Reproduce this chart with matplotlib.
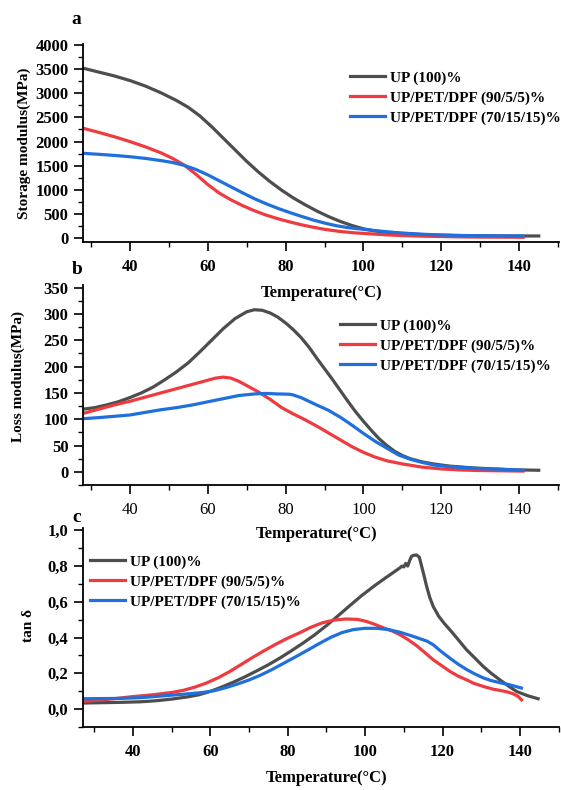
import matplotlib
matplotlib.use("Agg")
import matplotlib.pyplot as plt
from matplotlib.ticker import MultipleLocator

plt.rcParams['font.family'] = ['Liberation Serif', 'DejaVu Serif']
plt.rcParams['font.size'] = 11

labels = ["UP (100)%", "UP/PET/DPF (90/5/5)%", "UP/PET/DPF (70/15/15)%"]
colors = ["#4d4d4d", "#ee3b3f", "#1f6fdc"]

# --- a: storage modulus (MPa) ---
t_sm_up = [28, 30, 33, 36, 40, 44, 48, 52, 55, 58, 61, 64, 67, 70, 73, 76, 79, 82, 85, 88, 91, 94, 97, 100,
           103, 106, 110, 115, 120, 125, 130, 135, 140, 145]
sm_up = [3520, 3480, 3420, 3360, 3265, 3150, 3010, 2850, 2710, 2530, 2310, 2070, 1830, 1590, 1370, 1170, 990,
         830, 690, 560, 445, 345, 260, 190, 145, 115, 90, 70, 58, 50, 46, 44, 42, 42]
t_sm_90 = [28, 32, 36, 40, 44, 48, 51, 54, 57, 60, 63, 66, 69, 72, 75, 78, 81, 84, 87, 90, 94, 98, 102, 106,
           110, 115, 120, 125, 130, 135, 141]
sm_90 = [2275, 2190, 2100, 2000, 1890, 1765, 1650, 1510, 1320, 1110, 930, 790, 670, 565, 475, 400, 335, 275,
         225, 180, 135, 105, 85, 65, 50, 38, 30, 23, 19, 17, 15]
t_sm_70 = [28, 32, 36, 40, 44, 48, 51, 54, 57, 60, 63, 66, 69, 72, 75, 78, 81, 84, 87, 90, 93, 96, 100, 104,
           108, 112, 116, 120, 125, 130, 135, 141]
sm_70 = [1755, 1735, 1712, 1685, 1650, 1605, 1565, 1505, 1420, 1310, 1185, 1060, 935, 815, 710, 615, 530, 450,
         375, 310, 255, 215, 180, 145, 115, 92, 75, 62, 52, 46, 42, 40]

# --- b: loss modulus (MPa) ---
t_lm_up = [28, 31, 34, 37, 40, 43, 46, 49, 52, 55, 58, 61, 64, 67, 70, 72, 74, 76, 78, 80, 82, 84, 86, 88, 90,
           92, 94, 96, 98, 100, 102, 104, 106, 108, 110, 112, 115, 118, 122, 127, 132, 138, 145]
lm_up = [119, 122, 127, 133, 141, 150, 161, 175, 190, 207, 228, 250, 272, 291, 304, 308, 307, 302, 294, 283,
         270, 255, 237, 216, 196, 176, 155, 134, 114, 96, 79, 63, 50, 39, 31, 25, 19, 15, 11, 8, 6, 4, 3]
t_lm_90 = [28, 32, 36, 40, 44, 48, 52, 56, 59, 62, 64, 66, 68, 70, 73, 76, 79, 82, 85, 88, 91, 94, 97, 100,
           103, 106, 110, 115, 120, 125, 130, 135, 141]
lm_90 = [111, 119, 127, 134, 142, 150, 158, 166, 172, 178, 180, 178, 172, 164, 152, 138, 122, 110, 99, 87, 74,
         61, 48, 37, 28, 21, 15, 9, 5.5, 3.5, 2.5, 2, 1.5]
t_lm_70 = [28, 32, 36, 40, 44, 48, 52, 56, 60, 64, 68, 72, 75, 78, 81, 82, 84, 86, 88, 91, 94, 97, 100, 103,
           106, 109, 112, 115, 118, 122, 126, 130, 135, 141]
lm_70 = [101, 103, 105.5, 108, 113, 118, 122, 127, 133, 139, 145, 148, 149, 148, 147.5, 146, 141, 134, 127, 117,
         104, 89, 73, 58, 45, 32, 24, 18, 13, 10, 8, 6, 5, 3]

# --- c: tan delta ---
t_td_up = [27, 32, 37, 42, 46, 50, 54, 57, 60, 63, 66, 69, 72, 75, 78, 81, 84, 87, 90, 93, 96, 99, 102, 105,
           108, 109, 109.5, 110, 110.5, 111, 111.5, 112, 112.5, 113.3, 114, 114.6, 115.3, 115.9, 116.7, 117.6,
           119, 120.5, 121.9, 124, 126.2, 128.4, 130.5, 132.6, 134.8, 137, 139.1, 142, 144.7]
td_up = [0.034, 0.036, 0.038, 0.041, 0.047, 0.056, 0.068, 0.08, 0.099, 0.124, 0.151, 0.181, 0.214, 0.248, 0.286,
         0.327, 0.37, 0.416, 0.467, 0.522, 0.578, 0.633, 0.683, 0.73, 0.775, 0.79, 0.80, 0.795, 0.815, 0.80,
         0.83, 0.855, 0.86, 0.862, 0.85, 0.80, 0.74, 0.686, 0.625, 0.574, 0.52, 0.478, 0.444, 0.39, 0.332,
         0.285, 0.239, 0.2, 0.164, 0.13, 0.099, 0.075, 0.058]
t_td_90 = [27, 31, 35, 40, 45, 50, 53, 56, 59, 62, 65, 68, 71, 74, 77, 80, 83.2, 86, 89, 92, 95, 98, 100.4,
           103, 105, 107, 109, 111, 113.3, 115.5, 117.6, 120, 122, 124, 126.2, 128, 130.5, 133, 135, 137,
           138.3, 139.5, 140.4]
td_90 = [0.043, 0.05, 0.058, 0.07, 0.08, 0.093, 0.105, 0.123, 0.146, 0.175, 0.21, 0.25, 0.29, 0.328, 0.364,
         0.397, 0.428, 0.458, 0.483, 0.498, 0.504, 0.502, 0.49, 0.47, 0.452, 0.437, 0.416, 0.39, 0.355, 0.315,
         0.276, 0.24, 0.21, 0.185, 0.164, 0.145, 0.127, 0.112, 0.104, 0.095, 0.085, 0.072, 0.052]
t_td_70 = [27, 32, 37, 42, 46, 50, 54, 58, 61, 64, 67, 70, 73, 76, 79, 82, 85, 88, 91, 94, 97, 100, 103, 106,
           109, 112, 114, 116, 117.6, 119.5, 121.9, 124, 126.2, 128.5, 130.5, 132.5, 134.8, 137, 140.4]
td_70 = [0.058, 0.059, 0.06, 0.064, 0.071, 0.078, 0.085, 0.093, 0.103, 0.12, 0.14, 0.163, 0.19, 0.222, 0.257,
         0.292, 0.328, 0.365, 0.4, 0.428, 0.445, 0.452, 0.452, 0.445, 0.43, 0.41, 0.395, 0.38, 0.36, 0.325,
         0.285, 0.252, 0.222, 0.195, 0.175, 0.16, 0.148, 0.138, 0.118]

xticks = [40, 60, 80, 100, 120, 140]
xticklabels = ["40", "60", "80", "100", "120", "140"]
sm_ticks = [0, 500, 1000, 1500, 2000, 2500, 3000, 3500, 4000]
lm_ticks = [0, 50, 100, 150, 200, 250, 300, 350]
td_ticks = [0.0, 0.2, 0.4, 0.6, 0.8, 1.0]
td_ticklabels = ["0,0", "0,2", "0,4", "0,6", "0,8", "1,0"]

W, H = 561, 790


def box(left, top, right, bottom):
    return [left / W, 1 - bottom / H, (right - left) / W, (bottom - top) / H]


def ftext(x, y, s, **kw):
    fig.text(x / W, 1 - y / H, s, ha='center', va='center', fontweight='bold', **kw)


def style(ax, xlim, ylim, yticks, yticklabels, yminor, xbold=True):
    for side in ['top', 'right']:
        ax.spines[side].set_visible(False)
    for side in ['left', 'bottom']:
        ax.spines[side].set_linewidth(1.3)
    ax.set_xlim(*xlim)
    ax.set_ylim(*ylim)
    ax.set_xticks(xticks, xticklabels, fontweight='bold' if xbold else 'normal', fontsize=12)
    ax.set_yticks(yticks, yticklabels, fontweight='bold', fontsize=12)
    ax.xaxis.set_minor_locator(MultipleLocator(10))
    ax.yaxis.set_minor_locator(MultipleLocator(yminor))
    ax.tick_params(which='major', length=6.5, width=1.2, pad=4)
    ax.tick_params(which='minor', length=3.5, width=1.0)
    ax.tick_params(axis='x', which='major', pad=6)


def add_legend(ax, x, y):
    ax.legend(loc='upper left', bbox_to_anchor=(x / W, 1 - y / H), bbox_transform=fig.transFigure,
              frameon=False, prop={'weight': 'bold', 'size': 11}, handlelength=2.3, handletextpad=0.3,
              labelspacing=0.4, borderpad=0, borderaxespad=0)


fig = plt.figure(figsize=(W / 100, H / 100), dpi=100)

# a
ax1 = fig.add_axes(box(83, 44, 559, 242))
ax1.plot(t_sm_up, sm_up, color=colors[0], lw=2.3, label=labels[0])
ax1.plot(t_sm_90, sm_90, color=colors[1], lw=2.3, label=labels[1])
ax1.plot(t_sm_70, sm_70, color=colors[2], lw=2.3, label=labels[2])
style(ax1, (28, 150.2), (-83, 4021), sm_ticks, [str(v) for v in sm_ticks], 250)
add_legend(ax1, 350, 71)

# b
ax2 = fig.add_axes(box(83, 285, 559, 485))
ax2.plot(t_lm_up, lm_up, color=colors[0], lw=2.3, label=labels[0])
ax2.plot(t_lm_90, lm_90, color=colors[1], lw=2.3, label=labels[1])
ax2.plot(t_lm_70, lm_70, color=colors[2], lw=2.3, label=labels[2])
style(ax2, (28, 150.2), (-25, 355), lm_ticks, [str(v) for v in lm_ticks], 25, xbold=False)
add_legend(ax2, 340, 319)

# c
ax3 = fig.add_axes(box(83, 528, 559, 727))
ax3.plot(t_td_up, td_up, color=colors[0], lw=2.3, label=labels[0])
ax3.plot(t_td_90, td_90, color=colors[1], lw=2.3, label=labels[1])
ax3.plot(t_td_70, td_70, color=colors[2], lw=2.3, label=labels[2])
style(ax3, (27.1, 150.1), (-0.1, 1.013), td_ticks, td_ticklabels, 0.1)
add_legend(ax3, 90, 555)

# panel letters, axis titles
ftext(76, 20, "a", fontsize=14)
ftext(77, 270, "b", fontsize=14)
ftext(77, 517, "c", fontsize=14)
ftext(322, 293, "Temperature(°C)", fontsize=12)
ftext(317, 534, "Temperature(°C)", fontsize=12)
ftext(327, 778, "Temperature(°C)", fontsize=12)
ftext(24, 143, "Storage modulus(MPa)", fontsize=11, rotation=90)
ftext(18, 377, "Loss modulus(MPa)", fontsize=11, rotation=90)
ftext(29, 625, "tan δ", fontsize=11, rotation=90)

fig.savefig("out.png", dpi=100)
